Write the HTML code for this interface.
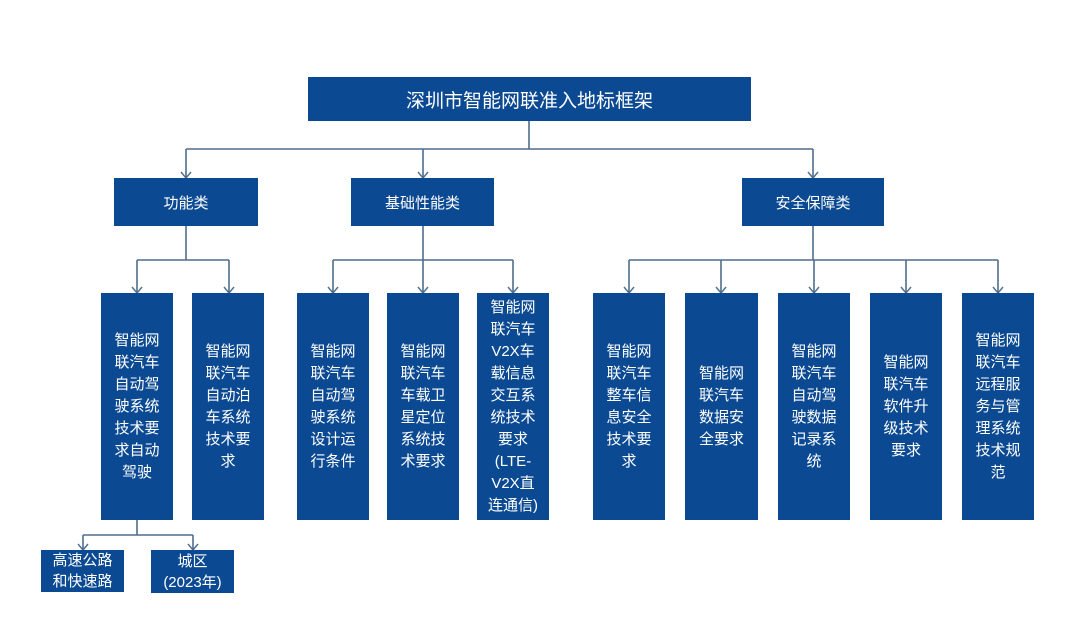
<!DOCTYPE html>
<html><head><meta charset="utf-8"><style>
body{margin:0;width:1077px;height:626px;background:#fff;position:relative;overflow:hidden;font-family:"Liberation Sans","Noto Sans CJK SC",sans-serif}
.b{position:absolute;background:#0b4a92;color:#fff;display:flex;align-items:center;justify-content:center;text-align:center}
.l{font-size:15px;line-height:22px;padding:0 4px;box-sizing:border-box}
svg{position:absolute;left:0;top:0}
</style></head><body>
<svg width="1077" height="626" fill="none" stroke="#4f6d8c" stroke-width="1.6">
<path d="M529 121V149M186 149H813M186 149V178M423 149V178M813 149V178"/>
<path d="M186 226V260M137 260H229M137 260V293M229 260V293"/>
<path d="M423 226V260M333 260H513M333 260V293M423 260V293M513 260V293"/>
<path d="M813 226V260M629 260H998M629 260V293M721 260V293M814 260V293M906 260V293M998 260V293"/>
<path d="M137 520V535M83 535H193M83 535V550M193 535V550"/>
<g stroke-width="1.4">
<path d="M181 172L186 178L191 172M418 172L423 178L428 172M808 172L813 178L818 172"/>
<path d="M132 287L137 293L142 287M224 287L229 293L234 287M328 287L333 293L338 287M418 287L423 293L428 287M508 287L513 293L518 287"/>
<path d="M624 287L629 293L634 287M716 287L721 293L726 287M809 287L814 293L819 287M901 287L906 293L911 287M993 287L998 293L1003 287"/>
<path d="M78 544L83 550L88 544M188 544L193 550L198 544"/>
</g>
</svg>
<div class="b" style="left:308px;top:77px;width:443px;height:44px;font-size:19px">深圳市智能网联准入地标框架</div>
<div class="b" style="left:114px;top:178px;width:144px;height:48px;font-size:15px">功能类</div>
<div class="b" style="left:351px;top:178px;width:143px;height:48px;font-size:15px">基础性能类</div>
<div class="b" style="left:742px;top:178px;width:142px;height:48px;font-size:15px">安全保障类</div>
<div class="b l" style="left:101px;top:293px;width:72px;height:227px">智能网<br>联汽车<br>自动驾<br>驶系统<br>技术要<br>求自动<br>驾驶</div>
<div class="b l" style="left:192px;top:293px;width:72px;height:227px">智能网<br>联汽车<br>自动泊<br>车系统<br>技术要<br>求</div>
<div class="b l" style="left:297px;top:293px;width:72px;height:227px">智能网<br>联汽车<br>自动驾<br>驶系统<br>设计运<br>行条件</div>
<div class="b l" style="left:387px;top:293px;width:72px;height:227px">智能网<br>联汽车<br>车载卫<br>星定位<br>系统技<br>术要求</div>
<div class="b l" style="left:477px;top:293px;width:72px;height:227px">智能网<br>联汽车<br>V2X车<br>载信息<br>交互系<br>统技术<br>要求<br>(LTE-<br>V2X直<br>连通信)</div>
<div class="b l" style="left:593px;top:293px;width:72px;height:227px">智能网<br>联汽车<br>整车信<br>息安全<br>技术要<br>求</div>
<div class="b l" style="left:685px;top:293px;width:73px;height:227px">智能网<br>联汽车<br>数据安<br>全要求</div>
<div class="b l" style="left:778px;top:293px;width:72px;height:227px">智能网<br>联汽车<br>自动驾<br>驶数据<br>记录系<br>统</div>
<div class="b l" style="left:870px;top:293px;width:72px;height:227px">智能网<br>联汽车<br>软件升<br>级技术<br>要求</div>
<div class="b l" style="left:962px;top:293px;width:72px;height:227px">智能网<br>联汽车<br>远程服<br>务与管<br>理系统<br>技术规<br>范</div>
<div class="b l" style="left:41px;top:550px;width:83px;height:42px;line-height:21px">高速公路<br>和快速路</div>
<div class="b l" style="left:151px;top:550px;width:83px;height:43px;line-height:21px">城区<br>(2023年)</div>
</body></html>
